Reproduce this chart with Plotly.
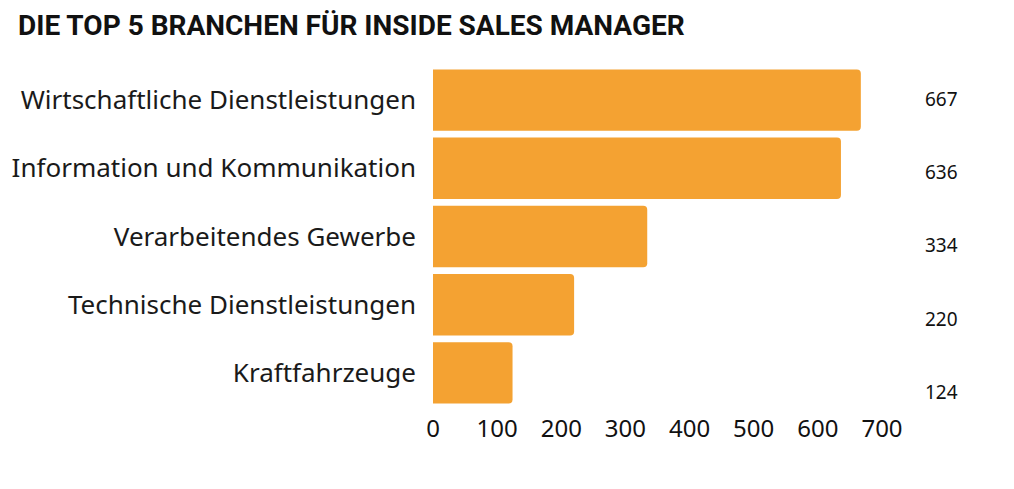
import plotly.graph_objects as go

categories = [
    "Wirtschaftliche Dienstleistungen",
    "Information und Kommunikation",
    "Verarbeitendes Gewerbe",
    "Technische Dienstleistungen",
    "Kraftfahrzeuge",
]
values = [667, 636, 334, 220, 124]
x_ticks = [0, 100, 200, 300, 400, 500, 600, 700]
title_text = "DIE TOP 5 BRANCHEN FÜR INSIDE SALES MANAGER"

BAR_COLOR = "#F4A232"

fig = go.Figure()
fig.add_trace(go.Bar(
    x=values,
    y=categories,
    orientation="h",
    marker=dict(color=BAR_COLOR, line=dict(width=0), cornerradius=4),
    hoverinfo="x+y",
))

# value labels on a secondary (invisible) axis, evenly spaced like the reference
for i, v in enumerate(values):
    fig.add_annotation(
        x=1.1333, xref="paper",
        y=i, yref="y2",
        text=str(v), showarrow=False,
        font=dict(family="Noto Sans", size=19, color="#111111"),
        xanchor="center", yanchor="middle",
    )

fig.update_layout(
    width=1014, height=489,
    paper_bgcolor="white", plot_bgcolor="white",
    margin=dict(l=430, r=132, t=66, b=82),
    bargap=0.1,
    showlegend=False,
    title=dict(
        text="<b>" + title_text + "</b>",
        x=18 / 1014, xanchor="left", xref="container",
        y=1 - 25 / 489, yanchor="middle", yref="container",
        font=dict(family="Roboto", size=28, color="#111111"),
    ),
    xaxis=dict(
        range=[0, 700], tickvals=x_ticks,
        showgrid=False, zeroline=False, showline=False,
        ticks="", ticklabelstandoff=5,
        tickfont=dict(family="Noto Sans", size=24, color="#111111"),
        fixedrange=True,
    ),
    yaxis=dict(
        categoryorder="array", categoryarray=categories,
        range=[4.5, -0.5],
        showgrid=False, zeroline=False, showline=False,
        ticks="", ticklabelstandoff=16,
        tickfont=dict(family="Noto Sans", size=26, color="#1a1a1a"),
        fixedrange=True,
    ),
    yaxis2=dict(
        overlaying="y", range=[4.205, -0.4505],
        visible=False, showgrid=False, zeroline=False,
        fixedrange=True,
    ),
)

fig.write_html(
    "out.html",
    config={"displayModeBar": False},
    post_script="document.body.style.margin='0';",
)
